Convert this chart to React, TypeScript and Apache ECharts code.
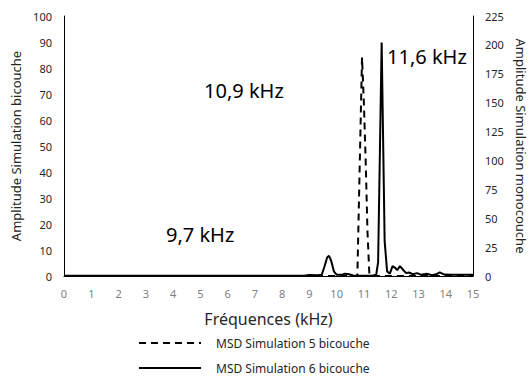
import React, { useEffect, useRef } from "react";
import * as echarts from "echarts";

// Frequency (kHz), amplitude pairs
const bicouche5: [number, number][] = [
  [0, 0], [10.7, 0], [10.76, 0.5], [10.93, 84], [11.0, 66], [11.07, 42],
  [11.13, 17], [11.2, 0.5], [11.3, 0], [15, 0],
];

const bicouche6: [number, number][] = [
  [0, 0.3], [8.8, 0.3], [9.0, 0.8], [9.3, 0.6], [9.45, 1], [9.55, 8], [9.65, 16],
  [9.72, 17.5], [9.8, 13], [9.9, 4], [10.0, 1], [10.2, 1], [10.3, 2], [10.45, 1.5],
  [10.6, 0.5], [11.3, 0.3], [11.45, 1], [11.52, 12], [11.65, 202], [11.76, 30],
  [11.85, 4], [11.95, 2], [12.05, 8.5], [12.15, 7], [12.22, 5], [12.32, 8.5],
  [12.45, 5], [12.55, 2.5], [12.65, 3], [12.8, 1.5], [12.95, 2.5], [13.1, 1],
  [13.3, 2], [13.5, 0.7], [13.65, 1.5], [13.78, 3.2], [13.95, 1.2], [14.2, 1], [15, 1],
];

const seriesNames = ["MSD Simulation 5 bicouche", "MSD Simulation 6 bicouche"];
const annotations = ["10,9 kHz", "9,7 kHz", "11,6 kHz"];
const xTitle = "Fréquences (kHz)";
const yLeftTitle = "Amplitude Simulation bicouche";
const yRightTitle = "Amplitude Simulation monocouche";

const FONT = "'Noto Sans', sans-serif";

export default function App() {
  const ref = useRef<HTMLDivElement>(null);
  useEffect(() => {
    if (!ref.current) return;
    const chart = echarts.init(ref.current, undefined, { renderer: "svg" });
    chart.setOption({
      animation: false,
      textStyle: { fontFamily: FONT },
      grid: { left: 64, right: 57, top: 16, bottom: 102, containLabel: false, outerBoundsMode: "none" },
      legend: {
        orient: "vertical",
        left: 138,
        top: 337,
        padding: 0,
        itemWidth: 62,
        itemHeight: 14,
        itemGap: 13,
        itemStyle: { opacity: 0 },
        textStyle: { fontSize: 12, color: "#262626", fontFamily: FONT, padding: [0, 0, 0, 10] },
        data: seriesNames,
      },
      xAxis: {
        type: "value",
        min: 0,
        max: 15,
        interval: 1,
        name: xTitle,
        nameLocation: "middle",
        nameGap: 35,
        nameTextStyle: { fontSize: 16, color: "#262626" },
        axisLine: { lineStyle: { color: "#000", width: 1 } },
        axisTick: { show: false },
        splitLine: { show: false },
        axisLabel: { color: "#808080", fontSize: 11, margin: 12 },
      },
      yAxis: [
        {
          type: "value",
          min: 0,
          max: 100,
          interval: 10,
          name: yLeftTitle,
          nameLocation: "middle",
          nameRotate: 90,
          nameGap: 42,
          nameTextStyle: { fontSize: 13, color: "#262626" },
          axisLine: { show: true, lineStyle: { color: "#000", width: 1 } },
          axisTick: { show: false },
          splitLine: { show: false },
          axisLabel: { color: "#262626", fontSize: 11, margin: 12 },
        },
        {
          type: "value",
          min: 0,
          max: 225,
          interval: 25,
          position: "right",
          name: yRightTitle,
          nameLocation: "middle",
          nameRotate: -90,
          nameGap: 41,
          nameTextStyle: { fontSize: 13, color: "#262626" },
          axisLine: { show: true, lineStyle: { color: "#000", width: 1 } },
          axisTick: { show: false },
          splitLine: { show: false },
          axisLabel: { color: "#262626", fontSize: 11, margin: 12 },
        },
      ],
      series: [
        {
          name: seriesNames[0],
          type: "line",
          yAxisIndex: 0,
          data: bicouche5,
          symbol: "none",
          lineStyle: { color: "#000", width: 2, type: [7, 5] },
          itemStyle: { color: "#000" },
        },
        {
          name: seriesNames[1],
          type: "line",
          yAxisIndex: 1,
          data: bicouche6,
          symbol: "none",
          lineStyle: { color: "#000", width: 2 },
          itemStyle: { color: "#000" },
        },
      ],
      graphic: [
        { type: "text", left: 204, top: 80, style: { text: annotations[0], font: `20px ${FONT}`, fill: "#000" } },
        { type: "text", left: 166, top: 224, style: { text: annotations[1], font: `20px ${FONT}`, fill: "#000" } },
        { type: "text", left: 387, top: 46, style: { text: annotations[2], font: `20px ${FONT}`, fill: "#000" } },
      ],
    });
    return () => chart.dispose();
  }, []);
  return <div ref={ref} style={{ width: 530, height: 378, position: "absolute", left: 0, top: 0 }} />;
}
